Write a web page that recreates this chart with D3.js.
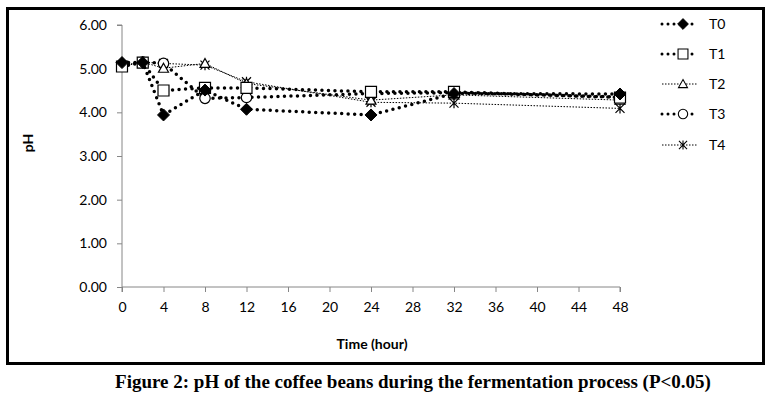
<!DOCTYPE html>
<html>
<head>
<meta charset="utf-8">
<script src="https://cdn.jsdelivr.net/npm/d3@7"></script>
<style>
  body { margin: 0; background: #fff; }
  svg { display: block; }
</style>
</head>
<body>
<div id="chart"></div>
<script>
// pH of coffee beans during fermentation

const hours = [0, 2, 4, 8, 12, 24, 32, 48];
const xTicks = [0, 4, 8, 12, 16, 20, 24, 28, 32, 36, 40, 44, 48];
const yTicks = [0, 1, 2, 3, 4, 5, 6];

const seriesNames = ["T0", "T1", "T2", "T3", "T4"];
const t0 = [5.14, 5.14, 3.94, 4.51, 4.07, 3.94, 4.43, 4.42];
const t1 = [5.05, 5.14, 4.50, 4.56, 4.56, 4.47, 4.47, 4.34];
const t2 = [5.08, 5.15, 5.01, 5.12, 4.66, 4.28, 4.40, 4.28];
const t3 = [5.08, 5.15, 5.12, 4.32, 4.34, 4.43, 4.45, 4.35];
const t4 = [5.05, 5.15, 5.12, 5.08, 4.70, 4.23, 4.21, 4.09];

const seriesValues = [t0, t1, t2, t3, t4];

const W = 771, H = 397;

const svg = d3.select("#chart")
  .append("svg")
  .attr("width", W)
  .attr("height", H);

// outer frame
svg.append("rect")
  .attr("x", 7.5).attr("y", 8.5)
  .attr("width", 756).attr("height", 355)
  .attr("fill", "none")
  .attr("stroke", "#000")
  .attr("stroke-width", 3);

const x = d3.scaleLinear().domain([0, 48]).range([122, 620]);
const y = d3.scaleLinear().domain([0, 6]).range([287, 25]);

const tickFont = "Lato, 'Open Sans', sans-serif";

// y axis
const yAxis = svg.append("g")
  .attr("transform", `translate(${x(0)},0)`)
  .call(d3.axisLeft(y).tickValues(yTicks).tickFormat(d3.format(".2f")).tickSize(5).tickPadding(10));
yAxis.select(".domain").attr("stroke", "#868686").attr("d", `M-5,${y(6)}H0V${y(0)}`);
yAxis.selectAll(".tick line").attr("stroke", "#868686");
yAxis.selectAll("text")
  .attr("font-family", tickFont)
  .attr("font-size", 14)
  .attr("fill", "#000");

// x axis
const xAxis = svg.append("g")
  .attr("transform", `translate(0,${y(0)})`)
  .call(d3.axisBottom(x).tickValues(xTicks).tickSize(5).tickPadding(10));
xAxis.select(".domain").attr("stroke", "#868686").attr("d", `M${x(0)},5V0H${x(48)}V5`);
xAxis.selectAll(".tick line").attr("stroke", "#868686");
xAxis.selectAll("text")
  .attr("font-family", tickFont)
  .attr("font-size", 14)
  .attr("fill", "#000");

// axis titles
svg.append("text")
  .attr("transform", `translate(33,143) rotate(-90)`)
  .attr("text-anchor", "middle")
  .attr("font-family", tickFont)
  .attr("font-weight", "bold")
  .attr("font-size", 14)
  .text("pH");

svg.append("text")
  .attr("x", 372).attr("y", 349)
  .attr("text-anchor", "middle")
  .attr("font-family", tickFont)
  .attr("font-weight", "bold")
  .attr("font-size", 14)
  .text("Time (hour)");

// caption
svg.append("text")
  .attr("x", 413).attr("y", 388)
  .attr("text-anchor", "middle")
  .attr("font-family", "'Liberation Serif', 'Times New Roman', serif")
  .attr("font-weight", "bold")
  .attr("font-size", 19)
  .text("Figure 2: pH of the coffee beans during the fermentation process (P<0.05)");

// line styles
const heavyDots = { width: 3.5, dash: "0 6.5", cap: "round" };
const fineDots = { width: 1, dash: "1.5 1.5", cap: "butt" };
const lineStyles = [heavyDots, heavyDots, fineDots, heavyDots, fineDots];

// markers
function markerPath(i) {
  if (i === 0) return "M0,-6L6,0L0,6L-6,0Z";
  if (i === 1) return "M-5.5,-5.5H5.5V5.5H-5.5Z";
  if (i === 2) return "M0,-5L5,4H-5Z";
  if (i === 3) return d3.symbol().type(d3.symbolCircle).size(85)();
  return "M0,-5V5M-4.5,-4.5L4.5,4.5M4.5,-4.5L-4.5,4.5";
}
function drawMarker(g, i) {
  const p = g.append("path").attr("d", markerPath(i)).attr("stroke", "#000");
  if (i === 0) p.attr("fill", "#000");
  else if (i === 4) p.attr("fill", "none").attr("stroke-width", 1.2);
  else p.attr("fill", "#fff").attr("stroke-width", 1.2);
}

const line = d3.line().x((d, i) => x(hours[i])).y(d => y(d));

// draw series, last first so T0 on top
for (let s = seriesValues.length - 1; s >= 0; s--) {
  const st = lineStyles[s];
  svg.append("path")
    .datum(seriesValues[s])
    .attr("d", line)
    .attr("fill", "none")
    .attr("stroke", "#000")
    .attr("stroke-width", st.width)
    .attr("stroke-dasharray", st.dash)
    .attr("stroke-linecap", st.cap);
  seriesValues[s].forEach((v, i) => {
    const g = svg.append("g").attr("transform", `translate(${x(hours[i])},${y(v)})`);
    drawMarker(g, s);
  });
}

// legend
const legendY = [24, 54, 84, 114, 145];
seriesNames.forEach((name, s) => {
  const st = lineStyles[s];
  const ly = legendY[s];
  svg.append("line")
    .attr("x1", 662).attr("x2", 697)
    .attr("y1", ly).attr("y2", ly)
    .attr("stroke", "#000")
    .attr("stroke-width", st.width === 1 ? 1 : 3)
    .attr("stroke-dasharray", st.width === 1 ? "1.5 1.5" : "0 6")
    .attr("stroke-linecap", st.cap);
  const g = svg.append("g").attr("transform", `translate(683,${ly}) scale(0.9)`);
  drawMarker(g, s);
  svg.append("text")
    .attr("x", 709).attr("y", ly + 5)
    .attr("font-family", tickFont)
    .attr("font-size", 14)
    .text(name);
});
</script>
</body>
</html>
